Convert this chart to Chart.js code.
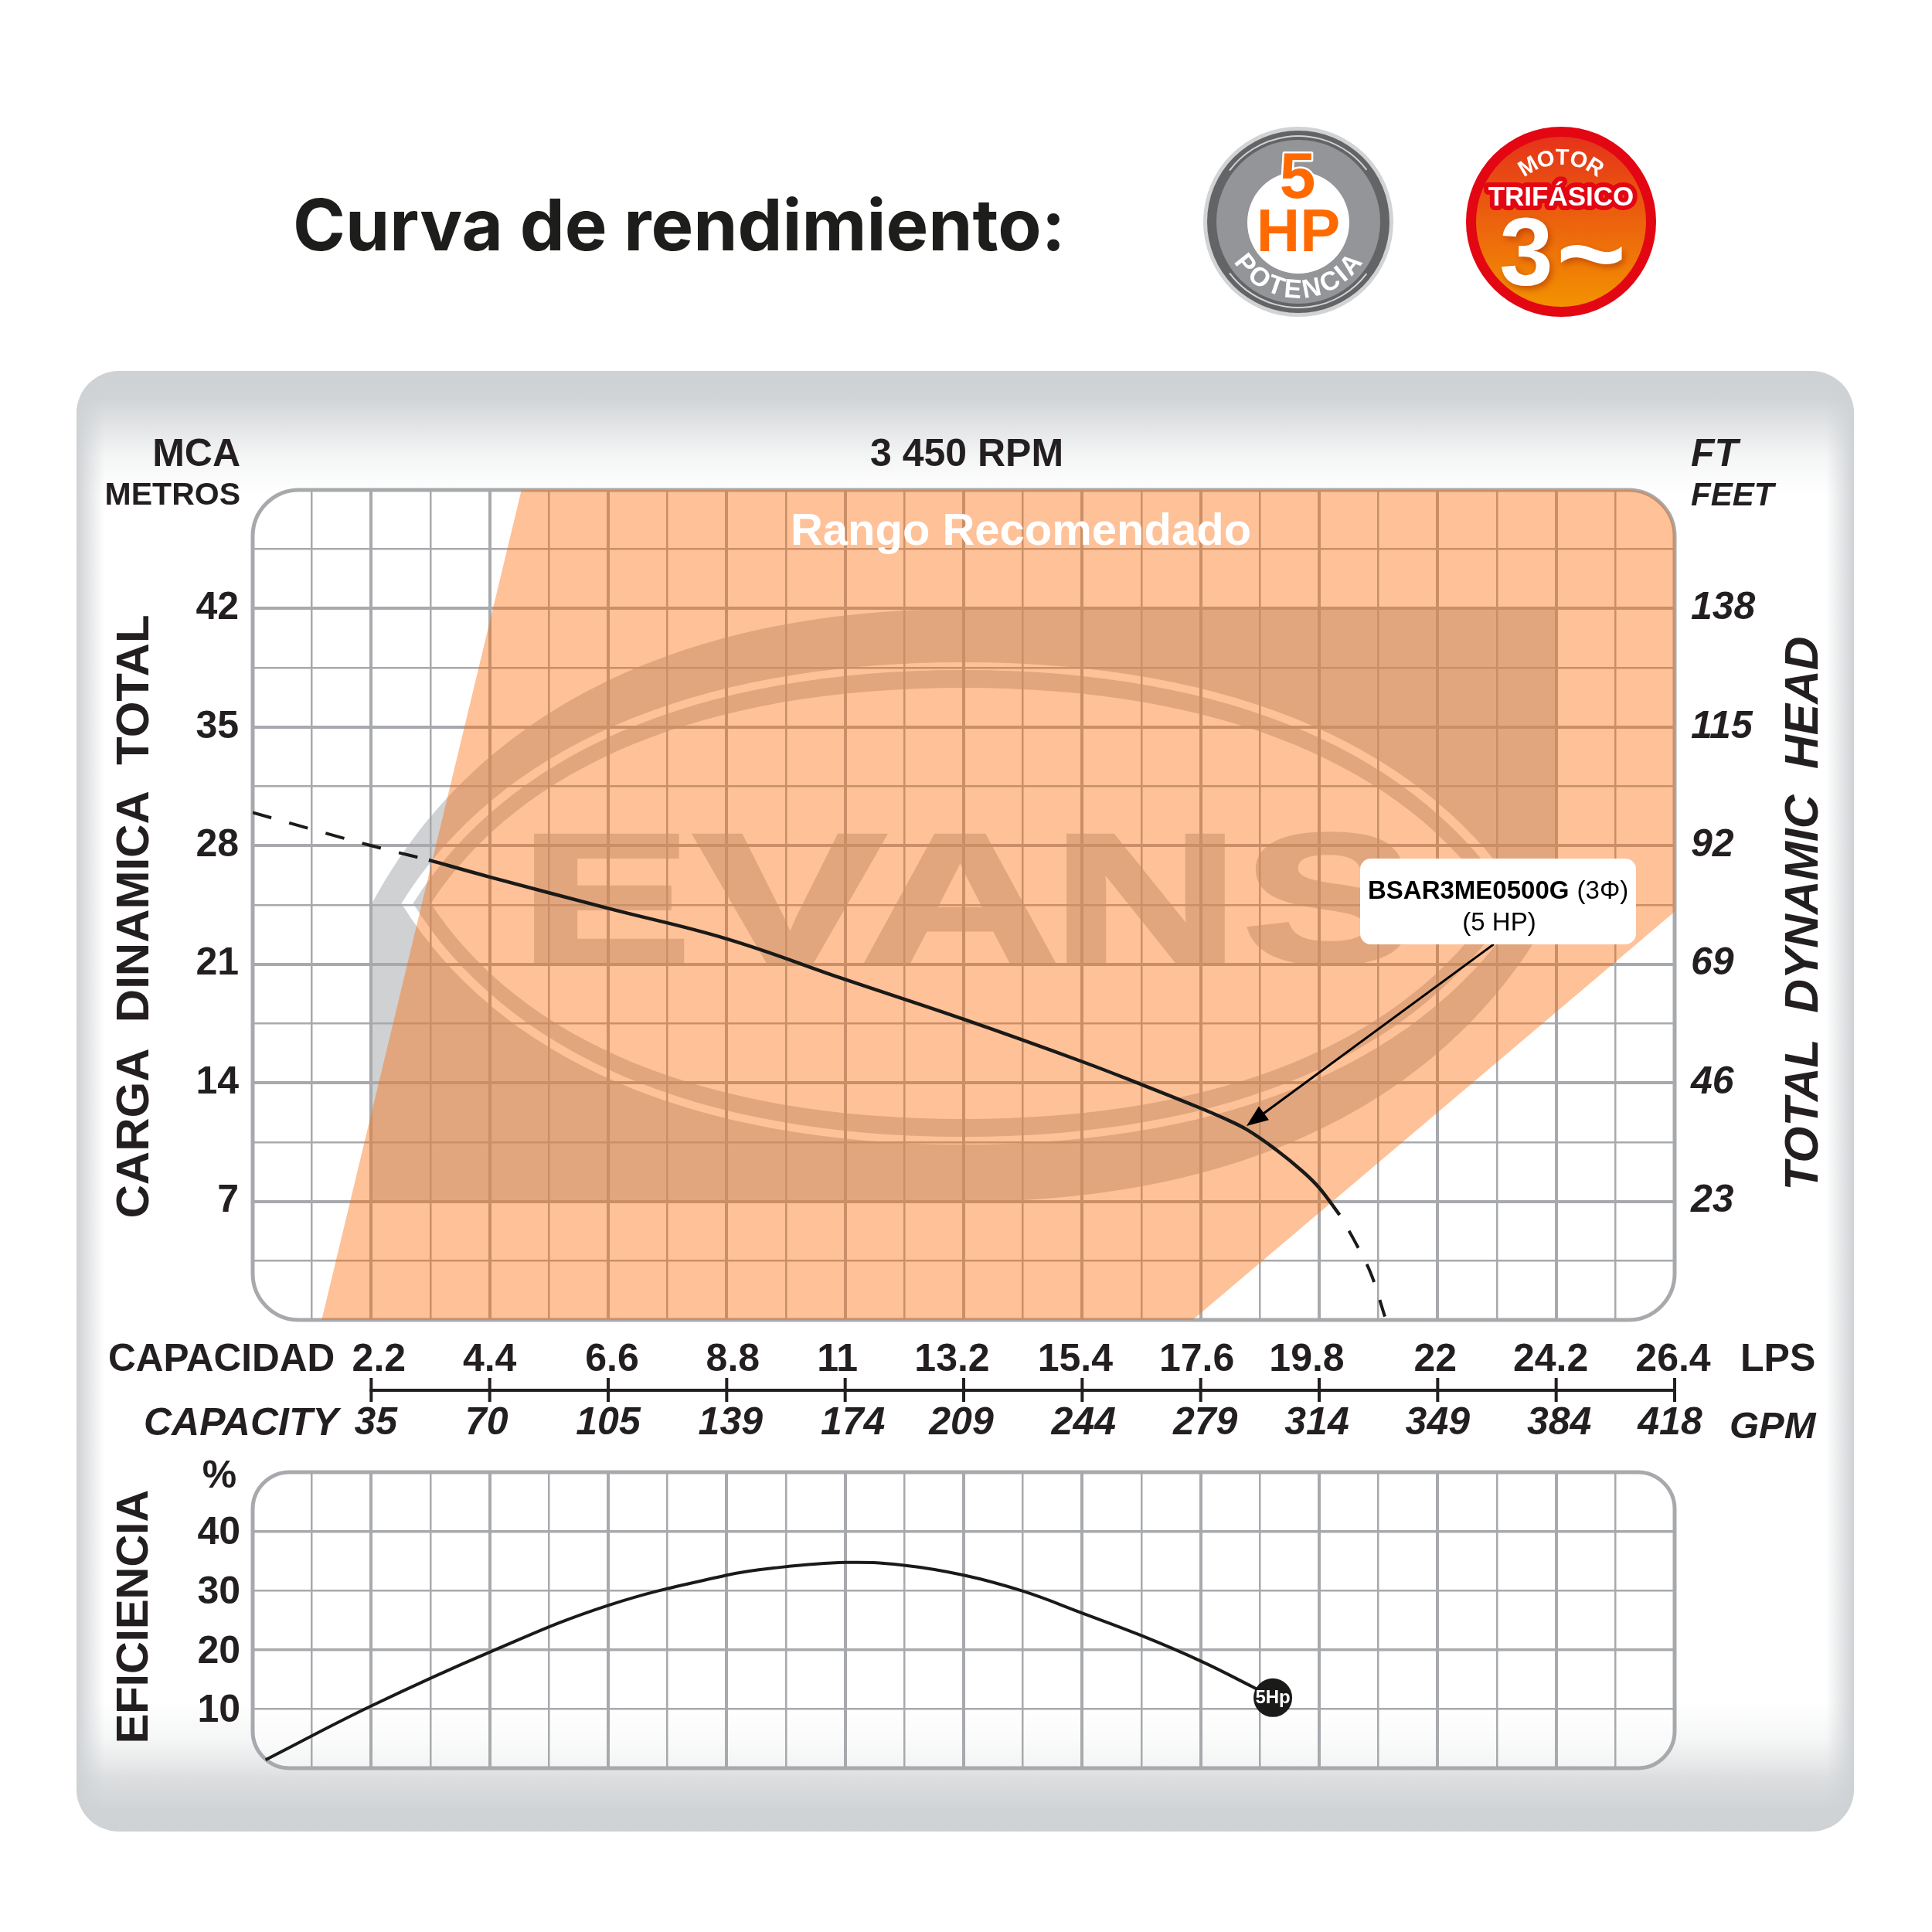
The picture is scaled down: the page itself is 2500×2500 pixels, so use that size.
<!DOCTYPE html>
<html>
<head>
<meta charset="utf-8">
<title>Curva de rendimiento</title>
<script src="https://cdn.jsdelivr.net/npm/chart.js@4/dist/chart.umd.min.js"></script>
<style>
html, body { margin: 0; padding: 0; background: #fff; }
canvas { position: absolute; left: 0; top: 0; }
</style>
</head>
<body>
<canvas id="headChart" width="2500" height="2500"></canvas>
<canvas id="effChart" width="2500" height="2500"></canvas>
<script>
// capacity axis
var lpsTicks = [2.2, 4.4, 6.6, 8.8, 11, 13.2, 15.4, 17.6, 19.8, 22, 24.2, 26.4];
var lpsLabels = ["2.2", "4.4", "6.6", "8.8", "11", "13.2", "15.4", "17.6", "19.8", "22", "24.2", "26.4"];
var gpmLabels = ["35", "70", "105", "139", "174", "209", "244", "279", "314", "349", "384", "418"];
// the labels in the original sit a little off their grid lines
var lpsNudge = [10, 0, 5, 8, -10, -15, -9, -5, -16, -3, -7, -2];
var gpmNudge = [6, -4, 0, 5, 10, -3, 2, 6, -3, 0, 4, -6];

// head curve, solid part
var headX = [3.27, 4.4, 6.6, 8.8, 11, 13.2, 15.4, 16.5, 17.6, 18, 18.45, 19, 19.5, 19.8, 20.18];
var headY = [27.15, 26.15, 24.3, 22.5, 20.1, 17.75, 15.25, 13.9, 12.5, 11.95, 11.25, 10.05, 8.75, 7.8, 6.2];
// head curve, dashed ends
var dashLeftX = [0, 2.2, 3.27];
var dashLeftY = [29.95, 28, 27.15];
var dashRightX = [20.18, 20.46, 20.78, 21.02];
var dashRightY = [6.2, 4.65, 2.58, 0.2];

// recommended range polygon
var rangeX = [1.28, 4.99, 26.4, 26.4, 17.45];
var rangeY = [0, 49, 49, 24.1, 0];

// callout arrow, box end and tip
var calloutX = [23.04, 18.45];
var calloutY = [22.18, 11.45];

// efficiency curve
var effX = [0.24, 2.2, 4.4, 6.6, 8.8, 9.66, 11, 12.06, 13.2, 14.3, 15.4, 16.5, 17.6, 18.55, 18.94];
var effY = [1.4, 10.5, 19.6, 27.5, 32.6, 33.8, 34.75, 34.3, 32.6, 29.9, 26.2, 22.4, 18.1, 13.8, 11.9];
var effPointX = [18.94];
var effPointY = [11.9];

var INK = "#231f20";
var GRID = "#a7a9ac";
var LOGO = "#cfd1d3";
var SANS = '"Liberation Sans"';
var AXIS_BOX = 120;

function toPoints(xs, ys) {
    return xs.map(function (x, i) { return { x: x, y: ys[i] }; });
}

function text(ctx, str, x, y, font, color, align, angle) {
    ctx.save();
    ctx.font = font;
    ctx.fillStyle = color || INK;
    ctx.textAlign = align || "center";
    ctx.textBaseline = "middle";
    ctx.translate(x, y);
    if (angle) ctx.rotate(angle);
    ctx.fillText(str, 0, 3);
    ctx.restore();
}

function roundPath(ctx, x, y, w, h, r) {
    ctx.beginPath();
    ctx.moveTo(x + r, y);
    ctx.arcTo(x + w, y, x + w, y + h, r);
    ctx.arcTo(x + w, y + h, x, y + h, r);
    ctx.arcTo(x, y + h, x, y, r);
    ctx.arcTo(x, y, x + w, y, r);
    ctx.closePath();
}

function plotPath(chart, r) {
    var a = chart.chartArea;
    roundPath(chart.ctx, a.left, a.top, a.right - a.left, a.bottom - a.top, r);
}

// letters along a circle, centred on the top (dir 1) or the bottom (dir -1)
function arcText(ctx, str, cx, cy, radius, font, color, dir, spacing) {
    ctx.save();
    ctx.font = font;
    ctx.fillStyle = color;
    ctx.textAlign = "center";
    ctx.textBaseline = "middle";
    var widths = str.split("").map(function (c) { return ctx.measureText(c).width + spacing; });
    var total = widths.reduce(function (s, w) { return s + w; }, 0);
    var pos = -total / 2;
    str.split("").forEach(function (c, i) {
        var mid = (pos + widths[i] / 2) / radius;
        pos += widths[i];
        ctx.save();
        ctx.translate(cx, cy);
        if (dir > 0) {
            ctx.rotate(mid);
            ctx.fillText(c, 0, -radius);
        } else {
            ctx.rotate(-mid);
            ctx.fillText(c, 0, radius);
        }
        ctx.restore();
    });
    ctx.restore();
}

function disc(ctx, x, y, r, color) {
    ctx.beginPath();
    ctx.arc(x, y, r, 0, Math.PI * 2);
    ctx.fillStyle = color;
    ctx.fill();
}

function drawPanel(ctx) {
    roundPath(ctx, 99, 480, 2300, 1890, 55);
    ctx.save();
    ctx.clip();
    var g = ctx.createLinearGradient(0, 480, 0, 2370);
    function stop(y, c) { g.addColorStop((y - 480) / 1890, c); }
    stop(480, "#cfd2d5");
    stop(515, "#d1d4d7");
    stop(590, "#f4f5f5");
    stop(640, "#ffffff");
    stop(2200, "#ffffff");
    stop(2250, "#f5f6f6");
    stop(2285, "#e5e7e8");
    stop(2300, "#dcdee0");
    stop(2340, "#d1d4d6");
    stop(2370, "#cfd2d5");
    ctx.fillStyle = g;
    ctx.fillRect(99, 480, 2300, 1890);
    var side = ctx.createLinearGradient(99, 0, 135, 0);
    side.addColorStop(0, "rgba(207,210,213,1)");
    side.addColorStop(1, "rgba(207,210,213,0)");
    ctx.fillStyle = side;
    ctx.fillRect(99, 480, 36, 1890);
    side = ctx.createLinearGradient(2399, 0, 2363, 0);
    side.addColorStop(0, "rgba(207,210,213,1)");
    side.addColorStop(1, "rgba(207,210,213,0)");
    ctx.fillStyle = side;
    ctx.fillRect(2363, 480, 36, 1890);
    ctx.restore();
}

function drawBadges(ctx) {
    // 5 HP badge
    disc(ctx, 1680, 287, 123, "#d1d3d4");
    disc(ctx, 1680, 287, 118, "#636466");
    disc(ctx, 1680, 287, 106, "#939598");
    ctx.strokeStyle = "#d1d3d4";
    ctx.lineWidth = 2;
    ctx.beginPath();
    ctx.arc(1680, 287, 111, -2.5, -0.65);
    ctx.stroke();
    ctx.beginPath();
    ctx.arc(1680, 287, 111, 0.65, 2.5);
    ctx.stroke();
    disc(ctx, 1680, 288, 66, "#ffffff");
    ctx.save();
    ctx.font = "bold 84px " + SANS;
    ctx.textAlign = "center";
    ctx.textBaseline = "middle";
    ctx.lineJoin = "round";
    ctx.strokeStyle = "#ffffff";
    ctx.lineWidth = 5;
    ctx.strokeText("5", 1679, 233);
    ctx.fillStyle = "#ff6a00";
    ctx.fillText("5", 1679, 233);
    ctx.restore();
    text(ctx, "HP", 1680, 300, "bold 78px " + SANS, "#ff6a00");
    arcText(ctx, "POTENCIA", 1680, 287, 89, "bold 34px " + SANS, "#ffffff", -1, 1);

    // three phase badge
    disc(ctx, 2020, 287, 123, "#e30613");
    var g = ctx.createLinearGradient(0, 177, 0, 397);
    g.addColorStop(0, "#e5331a");
    g.addColorStop(1, "#f39200");
    disc(ctx, 2020, 287, 110, g);
    arcText(ctx, "MOTOR", 2020, 287, 82, "bold 29px " + SANS, "#ffffff", 1, 1);
    ctx.save();
    ctx.font = "bold 35px " + SANS;
    ctx.textAlign = "center";
    ctx.textBaseline = "middle";
    ctx.lineJoin = "round";
    ctx.strokeStyle = "#e30613";
    ctx.lineWidth = 12;
    ctx.strokeText("TRIFÁSICO", 2020, 256);
    ctx.fillStyle = "#ffffff";
    ctx.fillText("TRIFÁSICO", 2020, 256);
    ctx.shadowColor = "rgba(180,60,0,0.7)";
    ctx.shadowBlur = 8;
    ctx.shadowOffsetX = 3;
    ctx.shadowOffsetY = 4;
    ctx.font = "bold 125px " + SANS;
    ctx.fillText("3", 1975, 335);
    ctx.font = "bold 155px " + SANS;
    ctx.fillText("~", 2059, 338);
    ctx.restore();
}

// a pointed ellipse, four cubic quarters
function lensQuarter(ctx, cx, cy, w, h, sx, sy, fromTop) {
    if (fromTop) {
        ctx.bezierCurveTo(cx + sx * 0.487 * w, cy + sy * h, cx + sx * 0.831 * w, cy + sy * 0.637 * h, cx + sx * w, cy);
    } else {
        ctx.bezierCurveTo(cx + sx * 0.831 * w, cy + sy * 0.637 * h, cx + sx * 0.487 * w, cy + sy * h, cx, cy + sy * h);
    }
}

function lens(ctx, cx, cy, w, h, color) {
    ctx.beginPath();
    ctx.moveTo(cx, cy - h);
    lensQuarter(ctx, cx, cy, w, h, 1, -1, true);
    lensQuarter(ctx, cx, cy, w, h, 1, 1, false);
    lensQuarter(ctx, cx, cy, w, h, -1, 1, true);
    lensQuarter(ctx, cx, cy, w, h, -1, -1, false);
    ctx.closePath();
    ctx.fillStyle = color;
    ctx.fill();
}

// wordmark letters are fitted one by one to the boxes seen in the picture
var logoLetters = ["E", "V", "A", "N", "S"];
var logoLeft = [690, 896, 1118, 1379, 1613];
var logoRight = [884, 1144, 1363, 1583, 1820];

function drawLogo(chart) {
    var ctx = chart.ctx;
    var cx = 1246.5, cy = 1171.5;
    ctx.save();
    plotPath(chart, 60);
    ctx.clip();
    // outer shape: square corners top right and bottom left
    ctx.beginPath();
    ctx.moveTo(cx, cy - 383.5);
    ctx.lineTo(cx + 766.5, cy - 383.5);
    ctx.lineTo(cx + 766.5, cy);
    lensQuarter(ctx, cx, cy, 766.5, 383.5, 1, 1, false);
    ctx.lineTo(cx - 766.5, cy + 383.5);
    ctx.lineTo(cx - 766.5, cy);
    lensQuarter(ctx, cx, cy, 766.5, 383.5, -1, -1, false);
    ctx.closePath();
    ctx.fillStyle = LOGO;
    ctx.fill();
    lens(ctx, 1246.5, 1169, 727, 312, "#ffffff");
    lens(ctx, 1246.5, 1169, 712, 302, LOGO);
    lens(ctx, 1246.5, 1169, 689, 279, "#ffffff");
    ctx.font = "bold 236px " + SANS;
    ctx.fillStyle = LOGO;
    ctx.strokeStyle = LOGO;
    ctx.lineWidth = 6;
    ctx.textAlign = "left";
    ctx.textBaseline = "alphabetic";
    logoLetters.forEach(function (c, i) {
        var m = ctx.measureText(c);
        var ink = m.actualBoundingBoxLeft + m.actualBoundingBoxRight;
        ctx.save();
        ctx.translate(logoLeft[i], 1244);
        ctx.scale((logoRight[i] - logoLeft[i] - 6) / ink, 1);
        ctx.translate(m.actualBoundingBoxLeft + 3, 0);
        ctx.fillText(c, 0, 0);
        ctx.strokeText(c, 0, 0);
        ctx.restore();
    });
    ctx.restore();
}

function drawCapacityAxis(chart) {
    var ctx = chart.ctx;
    var xs = chart.scales.x;
    var y0 = 1799;
    ctx.save();
    ctx.strokeStyle = INK;
    ctx.lineWidth = 4;
    ctx.beginPath();
    ctx.moveTo(xs.getPixelForValue(lpsTicks[0]) - 2, y0);
    ctx.lineTo(xs.getPixelForValue(lpsTicks[lpsTicks.length - 1]) + 2, y0);
    ctx.stroke();
    lpsTicks.forEach(function (v, i) {
        var px = xs.getPixelForValue(v);
        ctx.beginPath();
        ctx.moveTo(px, y0 - 16);
        ctx.lineTo(px, y0 + 15);
        ctx.stroke();
        text(ctx, lpsLabels[i], px + lpsNudge[i], 1757, "bold 50px " + SANS);
        text(ctx, gpmLabels[i], px + gpmNudge[i], 1839, "italic bold 50px " + SANS);
    });
    ctx.restore();
}

function drawCallout(chart) {
    var ctx = chart.ctx;
    var x0 = chart.scales.x.getPixelForValue(calloutX[0]);
    var y0 = chart.scales.y.getPixelForValue(calloutY[0]);
    var x1 = chart.scales.x.getPixelForValue(calloutX[1]);
    var y1 = chart.scales.y.getPixelForValue(calloutY[1]);
    var ang = Math.atan2(y1 - y0, x1 - x0);
    ctx.save();
    ctx.strokeStyle = "#000000";
    ctx.fillStyle = "#000000";
    ctx.lineWidth = 3;
    ctx.beginPath();
    ctx.moveTo(x0, y0);
    ctx.lineTo(x1 - Math.cos(ang) * 20, y1 - Math.sin(ang) * 20);
    ctx.stroke();
    ctx.translate(x1, y1);
    ctx.rotate(ang);
    ctx.beginPath();
    ctx.moveTo(0, 0);
    ctx.lineTo(-28, -11);
    ctx.lineTo(-28, 11);
    ctx.closePath();
    ctx.fill();
    ctx.restore();

    roundPath(ctx, 1760, 1111, 357, 111, 14);
    ctx.fillStyle = "#ffffff";
    ctx.fill();
    ctx.save();
    ctx.textBaseline = "middle";
    ctx.textAlign = "left";
    ctx.fillStyle = "#000000";
    ctx.font = "bold 33px " + SANS;
    ctx.fillText("BSAR3ME0500G", 1770, 1154);
    var w = ctx.measureText("BSAR3ME0500G ").width;
    ctx.font = "33px " + SANS;
    ctx.fillText("(3Φ)", 1771 + w, 1154);
    ctx.textAlign = "center";
    ctx.fillText("(5 HP)", 1940, 1195);
    ctx.restore();
}

var headPlugin = {
    id: "headDecor",
    beforeDraw: function (chart) {
        var ctx = chart.ctx;
        drawPanel(ctx);
        text(ctx, "Curva de rendimiento:", 379, 293, "bold 92px Inter", "#1d1d1b", "left");
        drawBadges(ctx);
        drawLogo(chart);
        // grid stays inside the rounded plot
        ctx.save();
        plotPath(chart, 60);
        ctx.clip();
    },
    beforeDatasetsDraw: function (chart) {
        var ctx = chart.ctx;
        ctx.restore();
        plotPath(chart, 60);
        ctx.strokeStyle = GRID;
        ctx.lineWidth = 5;
        ctx.stroke();
        ctx.save();
        plotPath(chart, 60);
        ctx.clip();
    },
    afterDatasetsDraw: function (chart) {
        chart.ctx.restore();
    },
    afterDraw: function (chart) {
        var ctx = chart.ctx;
        text(ctx, "Rango Recomendado", 1321, 686, "bold 58px " + SANS, "#ffffff");
        drawCallout(chart);
        text(ctx, "MCA", 311, 586, "bold 50px " + SANS, INK, "right");
        text(ctx, "METROS", 311, 639, "bold 41px " + SANS, INK, "right");
        text(ctx, "3 450 RPM", 1251, 586, "bold 50px " + SANS);
        text(ctx, "FT", 2188, 586, "italic bold 50px " + SANS, INK, "left");
        text(ctx, "FEET", 2188, 639, "italic bold 42px " + SANS, INK, "left");
        text(ctx, "CARGA  DINAMICA  TOTAL", 172, 1186, "bold 60px " + SANS, INK, "center", -Math.PI / 2);
        text(ctx, "TOTAL  DYNAMIC  HEAD", 2332, 1182, "italic bold 60.5px " + SANS, INK, "center", -Math.PI / 2);
        text(ctx, "CAPACIDAD", 140, 1757, "bold 49.5px " + SANS, INK, "left");
        text(ctx, "CAPACITY", 186, 1840, "italic bold 50px " + SANS, INK, "left");
        text(ctx, "LPS", 2252, 1757, "bold 50px " + SANS, INK, "left");
        text(ctx, "GPM", 2238, 1844, "italic bold 49px " + SANS, INK, "left");
        drawCapacityAxis(chart);
    }
};

var effPlugin = {
    id: "effDecor",
    beforeDraw: function (chart) {
        var ctx = chart.ctx;
        // the plot sits on a pale veil over the panel shading
        plotPath(chart, 48);
        ctx.fillStyle = "rgba(255,255,255,0.55)";
        ctx.fill();
        ctx.save();
        plotPath(chart, 48);
        ctx.clip();
    },
    beforeDatasetsDraw: function (chart) {
        var ctx = chart.ctx;
        ctx.restore();
        plotPath(chart, 48);
        ctx.strokeStyle = GRID;
        ctx.lineWidth = 5;
        ctx.stroke();
    },
    afterDraw: function (chart) {
        var ctx = chart.ctx;
        text(ctx, "EFICIENCIA", 172, 2092, "bold 58px " + SANS, INK, "center", -Math.PI / 2);
        text(ctx, "%", 284, 1908, "bold 50px " + SANS);
        text(ctx, "5Hp", chart.scales.x.getPixelForValue(effPointX[0]), chart.scales.y.getPixelForValue(effPointY[0]) - 2, "bold 24px " + SANS, "#ffffff");
    }
};

// y axes keep a fixed box so the plot stays where the padding puts it
function fixedWidth(scale) { scale.width = AXIS_BOX; }
function zeroHeight(scale) { scale.height = 0; }

function xScale() {
    return {
        type: "linear",
        min: 0,
        max: 26.4,
        afterFit: zeroHeight,
        border: { display: false },
        ticks: { display: false, stepSize: 1.1, autoSkip: false },
        grid: {
            drawTicks: false,
            color: GRID,
            lineWidth: function (c) { return Math.round(c.tick.value / 1.1) % 2 === 0 ? 4 : 2.5; }
        }
    };
}

var headChart = new Chart(document.getElementById("headChart"), {
    type: "scatter",
    data: {
        datasets: [
            { data: toPoints(headX, headY), showLine: true, tension: 0.4, borderColor: "#1a1a18", borderWidth: 4.5, pointRadius: 0 },
            { data: toPoints(dashLeftX, dashLeftY), showLine: true, cubicInterpolationMode: "monotone", borderColor: "#1a1a18", borderWidth: 4, borderDash: [25, 24], pointRadius: 0 },
            { data: toPoints(dashRightX, dashRightY), showLine: true, cubicInterpolationMode: "monotone", borderColor: "#1a1a18", borderWidth: 4, borderDash: [25, 24], borderDashOffset: 25, pointRadius: 0 },
            { data: toPoints(rangeX, rangeY), showLine: true, fill: "shape", backgroundColor: "rgba(252,107,10,0.42)", borderWidth: 0, pointRadius: 0 }
        ]
    },
    options: {
        responsive: false,
        animation: false,
        devicePixelRatio: 1,
        layout: { padding: { left: 327 - AXIS_BOX, top: 634, right: 333 - AXIS_BOX, bottom: 792 } },
        plugins: { legend: { display: false }, tooltip: { enabled: false } },
        scales: {
            x: xScale(),
            y: {
                min: 0,
                max: 49,
                afterFit: fixedWidth,
                border: { display: false },
                ticks: {
                    stepSize: 3.5,
                    autoSkip: false,
                    z: 1,
                    padding: 18,
                    color: INK,
                    font: { family: "Liberation Sans", weight: "bold", size: 50 },
                    callback: function (v) { return v % 7 === 0 && v > 0 && v < 49 ? String(v) : ""; }
                },
                grid: {
                    drawTicks: false,
                    color: GRID,
                    lineWidth: function (c) { return c.tick.value % 7 === 0 ? 4 : 2.5; }
                }
            },
            feet: {
                position: "right",
                min: 0,
                max: 161,
                afterFit: fixedWidth,
                border: { display: false },
                grid: { display: false, drawTicks: false },
                ticks: {
                    stepSize: 23,
                    autoSkip: false,
                    z: 1,
                    padding: 21,
                    color: INK,
                    font: { family: "Liberation Sans", weight: "bold", style: "italic", size: 50 },
                    callback: function (v) { return v > 0 && v < 161 ? String(v) : ""; }
                }
            }
        }
    },
    plugins: [headPlugin]
});

var effChart = new Chart(document.getElementById("effChart"), {
    type: "scatter",
    data: {
        datasets: [
            { data: toPoints(effPointX, effPointY), backgroundColor: "#1a1a18", pointRadius: 25, borderWidth: 0 },
            { data: toPoints(effX, effY), showLine: true, tension: 0.4, borderColor: "#1a1a18", borderWidth: 4, pointRadius: 0 }
        ]
    },
    options: {
        responsive: false,
        animation: false,
        devicePixelRatio: 1,
        layout: { padding: { left: 327 - AXIS_BOX, top: 1905, right: 333, bottom: 212 } },
        plugins: { legend: { display: false }, tooltip: { enabled: false } },
        scales: {
            x: xScale(),
            y: {
                min: 0,
                max: 50,
                afterFit: fixedWidth,
                border: { display: false },
                ticks: {
                    stepSize: 10,
                    autoSkip: false,
                    z: 1,
                    padding: 16,
                    labelOffset: 3,
                    color: INK,
                    font: { family: "Liberation Sans", weight: "bold", size: 50 },
                    callback: function (v) { return v > 0 && v < 50 ? String(v) : ""; }
                },
                grid: {
                    drawTicks: false,
                    color: GRID,
                    lineWidth: function (c) { return c.tick.value % 20 === 0 ? 3.6 : 2.5; }
                }
            }
        }
    },
    plugins: [effPlugin]
});
</script>
</body>
</html>
